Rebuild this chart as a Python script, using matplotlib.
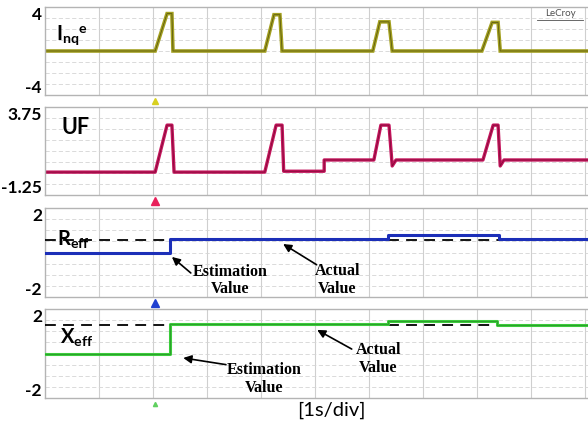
import numpy as np
import matplotlib.pyplot as plt
from matplotlib.lines import Line2D

plt.rcParams['font.family'] = ['Lato', 'DejaVu Sans']
plt.rcParams['mathtext.fontset'] = 'custom'
plt.rcParams['mathtext.rm'] = 'Lato'
plt.rcParams['mathtext.it'] = 'Lato:italic'
plt.rcParams['mathtext.bf'] = 'Lato:bold'

# time axis in divisions (1 s/div)
t_ing = [0, 2.04, 2.26, 2.35, 2.37, 4.07, 4.24, 4.35, 4.39, 6.07, 6.20, 6.37, 6.43,
         8.09, 8.28, 8.39, 8.43, 10.1]
v_ing = [0, 0, 3.4, 3.4, 0, 0, 3.3, 3.3, 0, 0, 2.65, 2.65, 0, 0, 2.6, 2.6, 0, 0]

t_uf = [0, 2.04, 2.26, 2.35, 2.39, 4.07, 4.28, 4.39, 4.42, 4.5, 5.17, 5.17, 6.09,
        6.22, 6.37, 6.43, 6.5, 8.11, 8.30, 8.39, 8.43, 8.5, 10.1]
v_uf = [0.05, 0.05, 2.72, 2.72, 0.05, 0.05, 2.72, 2.72, 0.1, 0.1, 0.1, 0.74, 0.74,
        2.72, 2.72, 0.4, 0.74, 0.74, 2.72, 2.72, 0.4, 0.74, 0.74]

t_r = [0, 2.31, 2.31, 6.35, 6.35, 8.41, 8.41, 10.1]
v_r = [0, 0, 0.6, 0.6, 0.8, 0.8, 0.62, 0.62]
r_actual = 0.55

t_x = [0, 2.31, 2.31, 6.35, 6.35, 8.37, 8.37, 10.1]
v_x = [0, 0, 1.33, 1.33, 1.48, 1.48, 1.28, 1.28]
x_actual = 1.3

ylims = [(-4, 4), (-1.25, 3.75), (-2, 2), (-2, 2)]
ytext = [('4', '-4'), ('3.75', '-1.25'), ('2', '-2'), ('2', '-2')]
colors = ['#a3a020', '#c4145c', '#1c2fb8', '#3ccc3c']
marker_colors = ['#d8d020', '#e8205a', '#2040d0', '#60d060']

W, H = 588, 425
fig = plt.figure(figsize=(W / 100, H / 100), dpi=100)
fig.patch.set_facecolor('white')

# panel frames in pixels: (top, bottom)
frames = [(7, 95), (107, 195), (208, 297), (309, 398)]
left_px, right_px = 45, 592
xmax = (right_px - left_px) / 54.0

axes = []
for (top, bot), yl in zip(frames, ylims):
    ax = fig.add_axes([left_px / W, 1 - bot / H, (right_px - left_px) / W, (bot - top) / H])
    ax.set_xlim(0, xmax)
    ax.set_ylim(*yl)
    ax.set_xticks([])
    ax.set_yticks([])
    for s in ax.spines.values():
        s.set_color('#b4b4b4')
        s.set_linewidth(1.0)
    for k in range(1, 11):
        ax.axvline(k, color='#cfcfcf', lw=0.8, zorder=0)
    step = (yl[1] - yl[0]) / 8
    for k in range(1, 8):
        ax.axhline(yl[0] + k * step, color='#d4d4d4', lw=0.6, ls=(0, (5, 3)), zorder=0)
    axes.append(ax)

ax1, ax2, ax3, ax4 = axes

ax1.plot(t_ing, v_ing, color=colors[0], lw=2.6, solid_joinstyle='miter')
ax1.plot(t_ing, v_ing, color='#5e5c10', lw=0.6)
ax2.plot(t_uf, v_uf, color=colors[1], lw=2.4)
ax2.plot(t_uf, v_uf, color='#7a0c34', lw=0.5)
ax3.axhline(r_actual, color='black', lw=1.3, ls=(0, (6, 4)), zorder=3)
ax3.plot(t_r, v_r, color=colors[2], lw=2.2, zorder=4)
ax4.axhline(x_actual, color='black', lw=1.3, ls=(0, (6, 4)), zorder=3)
ax4.plot(t_x, v_x, color=colors[3], lw=2.2, zorder=4)
ax4.plot(t_x, v_x, color='#208020', lw=0.4, zorder=4)

# trigger markers below panels
for ax, c, sz in zip(axes, marker_colors, [5, 6, 6, 3]):
    ax.plot([2.04], [-0.07], marker='^', color=c, ms=sz, clip_on=False,
            transform=ax.get_xaxis_transform())

# value labels on the left
for (top, bot), (hi, lo) in zip(frames, ytext):
    fig.text(42 / W, 1 - (top + 8) / H, hi, ha='right', va='center',
             fontsize=12.5, fontweight='bold')
    fig.text(42 / W, 1 - (bot - 7) / H, lo, ha='right', va='center',
             fontsize=12.5, fontweight='bold')

# channel labels
ax1.text(0.2, 1.45, r'$\mathbf{I}_{\mathbf{nq}}{}^{\mathbf{e}}$', fontsize=14.5, va='center')
ax2.text(0.3, 2.56, 'UF', fontsize=15.5, fontweight='bold', va='center')
ax3.text(0.22, 0.62, r'$\mathbf{R}_{\mathbf{eff}}$', fontsize=14.5, va='center', zorder=5)
ax4.text(0.27, 0.72, r'$\mathbf{X}_{\mathbf{eff}}$', fontsize=14.5, va='center', zorder=5)

serif = dict(family='Liberation Serif', fontweight='bold', fontsize=11.5,
             ha='center', va='center', linespacing=1.1)
arrow = dict(arrowstyle='-|>', color='black', lw=1.2, mutation_scale=12,
             shrinkA=0, shrinkB=0)

ax3.annotate('', xy=(2.35, -0.2), xytext=(2.7, -0.92), arrowprops=arrow)
ax3.text(3.43, -1.26, 'Estimation\nValue', **serif)
ax3.annotate('', xy=(4.41, 0.38), xytext=(5.03, -0.55), arrowprops=arrow)
ax3.text(5.41, -1.24, 'Actual\nValue', **serif)

ax4.annotate('', xy=(2.56, -0.2), xytext=(3.35, -0.5), arrowprops=arrow)
ax4.text(4.06, -1.15, 'Estimation\nValue', **serif)
ax4.annotate('', xy=(5.04, 1.06), xytext=(5.68, 0.2), arrowprops=arrow)
ax4.text(6.17, -0.25, 'Actual\nValue', **serif)

fig.text(331 / W, 1 - 410 / H, '[1s/div]', ha='center', va='center', fontsize=14.5)

fig.text(560 / W, 1 - 14 / H, 'LeCroy', ha='center', va='center', fontsize=7,
         color='#505050')
fig.add_artist(Line2D([537 / W, 583 / W], [1 - 20 / H, 1 - 20 / H], color='#505050', lw=0.6))

fig.savefig('out.png', dpi=100, facecolor='white')
